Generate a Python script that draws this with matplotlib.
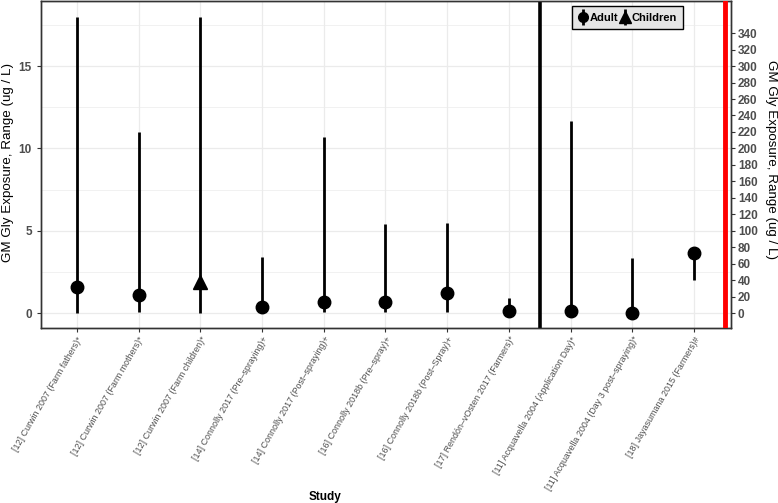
import matplotlib
matplotlib.use("Agg")
import matplotlib.pyplot as plt
from matplotlib.lines import Line2D
from matplotlib.legend_handler import HandlerTuple
import numpy as np

plt.rcParams['font.family'] = ['Liberation Sans', 'DejaVu Sans']

studies = [
    "[12] Curwin 2007 (Farm fathers)*",
    "[12] Curwin 2007 (Farm mothers)*",
    "[12] Curwin 2007 (Farm children)*",
    "[14] Connolly 2017 (Pre\u2013spraying)+",
    "[14] Connolly 2017 (Post\u2013spraying)+",
    "[16] Connolly 2018b (Pre\u2013spray)+",
    "[16] Connolly 2018b (Post\u2013Spray)+",
    "[17] Rend\u00f3n\u2013vOsten 2017 (Farmers)*",
    "[11] Acquavella 2004 (Application Day)*",
    "[11] Acquavella 2004 (Day 3 post\u2013spraying)*",
    "[18] Jayasumana 2015 (Farmers)#",
]
group = ["Adult", "Adult", "Children", "Adult", "Adult", "Adult", "Adult", "Adult",
         "Adult", "Adult", "Adult"]
# left-axis studies (ug/L)
gm_left = [1.6, 1.1, 1.9, 0.4, 0.7, 0.7, 1.2, 0.13]
lo_left = [0.0, 0.05, 0.0, 0.0, 0.1, 0.1, 0.1, 0.0]
hi_left = [18.0, 11.0, 18.0, 3.4, 10.7, 5.4, 5.5, 0.9]
# right-axis studies (ug/L)
gm_right = [2.8, 0.5, 73.5]
lo_right = [0.0, 0.0, 40.0]
hi_right = [233.5, 67.5, 73.5]

left_ticks = [0, 5, 10, 15]
right_ticks = list(range(0, 341, 20))

W, H = 778, 503
fig = plt.figure(figsize=(W / 100, H / 100), dpi=100)
ax = fig.add_axes([41 / W, 1 - 328 / H, (731 - 41) / W, 327 / H])

x = np.arange(1, len(studies) + 1)
ylim_left = (-0.9, 18.95)
scale = 20.0

ax.set_xlim(0.42, 11.6)
ax.set_ylim(*ylim_left)
ax2 = ax.twinx()
ax2.set_ylim(ylim_left[0] * scale, ylim_left[1] * scale)

grid_c = "#ebebeb"
ax.set_yticks(left_ticks)
ax.set_yticks([2.5, 7.5, 12.5, 17.5], minor=True)
ax.grid(True, which='major', color=grid_c, lw=0.9)
ax.grid(True, which='minor', axis='y', color=grid_c, lw=0.5)
ax.set_axisbelow(True)

nl = len(gm_left)
for i in range(nl):
    xi = x[i]
    ax.vlines(xi, lo_left[i], hi_left[i], color='black', lw=2.0, zorder=3)
    m = '^' if group[i] == "Children" else 'o'
    ax.plot(xi, gm_left[i], marker=m, color='black', ms=9 if m == 'o' else 10,
            ls='none', zorder=4)
for j in range(len(gm_right)):
    xi = x[nl + j]
    ax2.vlines(xi, lo_right[j], hi_right[j], color='black', lw=2.0, zorder=3)
    m = '^' if group[nl + j] == "Children" else 'o'
    ax2.plot(xi, gm_right[j], marker=m, color='black', ms=9, ls='none', zorder=4)

ax.axvline(8.5, color='black', lw=2.6, zorder=5)
ax2.axvline(11.5, color='#ff0000', lw=3.5, zorder=5)

tick_c = "#4d4d4d"
ax.set_xticks(x)
ax.set_xticklabels(studies, rotation=60, ha='right', rotation_mode='anchor',
                   fontsize=6.4, color=tick_c)
ax.tick_params(axis='x', length=3, color='#333333', pad=2)
ax.tick_params(axis='y', which='major', length=3, color='#333333', labelsize=8.5,
               labelcolor=tick_c)
ax.tick_params(axis='y', which='minor', length=0)
for lab in ax.get_yticklabels():
    lab.set_fontweight('bold')

ax2.set_yticks(right_ticks)
ax2.tick_params(axis='y', length=3, color='#333333', labelsize=8.5,
                labelcolor=tick_c, pad=2)
for lab in ax2.get_yticklabels():
    lab.set_fontweight('bold')

for a in (ax, ax2):
    for s in a.spines.values():
        s.set_color('#333333')
        s.set_linewidth(1.0)

ylab = "GM Gly Exposure, Range (ug / L)"
fig.text(8 / W, 1 - 162 / H, ylab, fontsize=9.6, rotation=90,
         ha='center', va='center')
fig.text(771 / W, 1 - 160 / H, ylab, fontsize=9.6, rotation=-90,
         ha='center', va='center')
fig.text(325 / W, 1 - 497 / H, "Study", fontsize=8.5, fontweight='bold',
         ha='center', va='center')

h_adult = (Line2D([], [], color='black', marker='|', ms=12, mew=2, ls='none'),
           Line2D([], [], color='black', marker='o', ms=7, ls='none'))
h_child = (Line2D([], [], color='black', marker='|', ms=12, mew=2, ls='none'),
           Line2D([], [], color='black', marker='^', ms=8, ls='none'))
leg = ax2.legend([h_adult, h_child], ["Adult", "Children"],
                 handler_map={tuple: HandlerTuple(ndivide=1, pad=0)},
                 ncol=2, loc='center', bbox_to_anchor=((627.5 - 41) / 690, 1 - 16.5 / 327),
                 frameon=True, fancybox=False,
                 handlelength=0.9, handletextpad=0.2, columnspacing=0.1,
                 borderpad=0.55, prop={'weight': 'bold', 'size': 8})
leg.get_frame().set_facecolor('#e5e5e5')
leg.get_frame().set_edgecolor('black')
leg.get_frame().set_linewidth(1.0)
leg.get_frame().set_alpha(1)
leg.set_zorder(10)

fig.savefig("out.png", dpi=100)
